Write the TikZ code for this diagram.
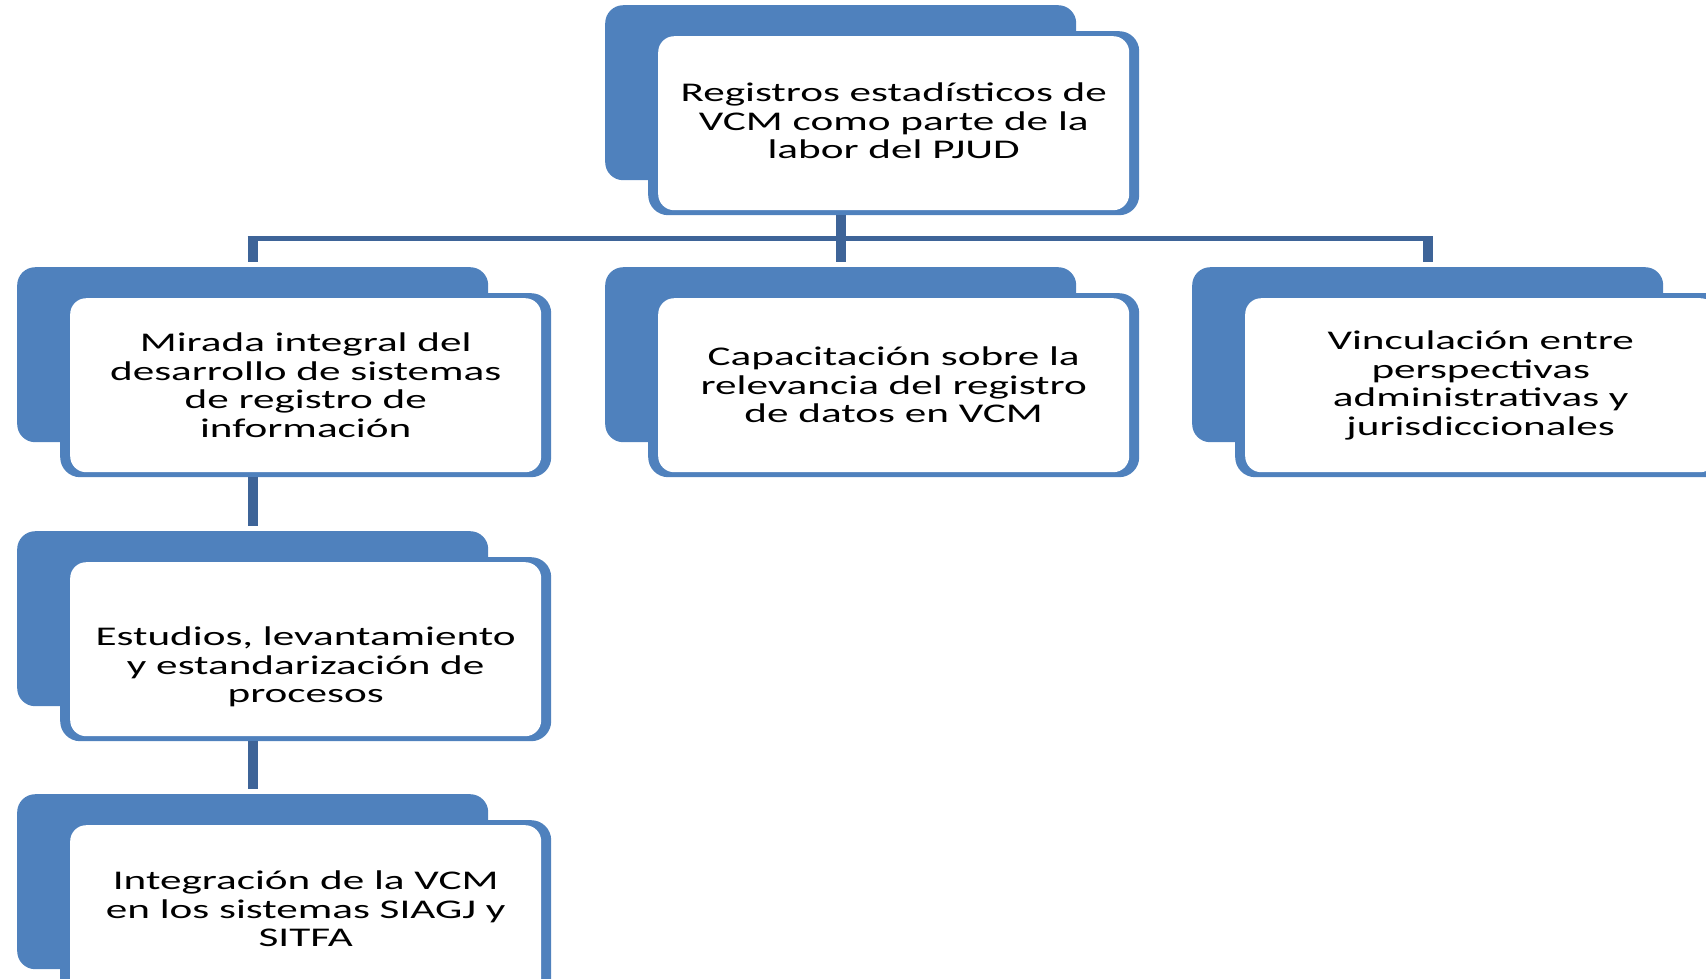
\documentclass[tikz,border=0pt]{standalone}
\usepackage{fontspec}
\setmainfont[FakeStretch=1.6]{Carlito}
\usepackage{tikz}
\usetikzlibrary{calc}

\definecolor{boxblue}{RGB}{79,129,189}
\definecolor{linkblue}{RGB}{62,100,152}

\tikzset{
  backbox/.style={fill=boxblue, draw=none, rounded corners=18pt, minimum width=471pt, minimum height=175pt, inner sep=0pt, anchor=north west},
  framebox/.style={fill=boxblue, draw=none, rounded corners=20pt, minimum width=491pt, minimum height=184pt, inner sep=0pt, anchor=north west},
  txtbox/.style={fill=white, draw=none, rounded corners=16pt, minimum width=471pt, minimum height=174pt, inner sep=0pt, align=center, font=\fontsize{27}{28.5}\selectfont},
  lbl/.style={align=center, font=\fontsize{27}{28.5}\selectfont},
  stub/.style={linkblue, line width=10pt},
  bus/.style={linkblue, line width=5pt},
}

\begin{document}
\begin{tikzpicture}[x=1pt, y=-1pt]

\useasboundingbox (0,0) rectangle (1706,978);
\clip (0,0) rectangle (1706,978);

% back boxes
\node[backbox] (regBack) at (605,5) {};
\node[backbox] (mirBack) at (17,267) {};
\node[backbox] (capBack) at (605,267) {};
\node[backbox] (vinBack) at (1192,267) {};
\node[backbox] (estBack) at (17,531) {};
\node[backbox] (intBack) at (17,794) {};

% frames
\node[framebox] (regFrame) at ([shift={(43,26)}]regBack.north west) {};
\node[framebox] (mirFrame) at ([shift={(43,26)}]mirBack.north west) {};
\node[framebox] (capFrame) at ([shift={(43,26)}]capBack.north west) {};
\node[framebox] (vinFrame) at ([shift={(43,26)}]vinBack.north west) {};
\node[framebox] (estFrame) at ([shift={(43,26)}]estBack.north west) {};
\node[framebox] (intFrame) at ([shift={(43,26)}]intBack.north west) {};

% texts
\node[txtbox] (reg) at (regFrame.center) {};
\node[lbl] (regText) at ([yshift=2pt]reg.center) {Registros estadísticos de\\VCM como parte de la\\labor del PJUD};
\node[txtbox] (mir) at (mirFrame.center) {Mirada integral del\\desarrollo de sistemas\\de registro de\\información};
\node[txtbox] (cap) at (capFrame.center) {Capacitación sobre la\\relevancia del registro\\de datos en VCM};
\node[txtbox] (vin) at (vinFrame.center) {Vinculación entre\\perspectivas\\administrativas y\\jurisdiccionales};
\node[txtbox] (est) at (estFrame.center) {};
\node[lbl] (estText) at ([yshift=-18pt]est.center) {Estudios, levantamiento\\y estandarización de\\procesos};
\node[txtbox] (int) at (intFrame.center) {};
\node[lbl] (intText) at ([yshift=3pt]int.center) {Integración de la VCM\\en los sistemas SIAGJ y\\SITFA};

% connectors
\draw[bus] ([xshift=-5pt, yshift=28.5pt]mirBack.north) -- ([xshift=5pt, yshift=28.5pt]vinBack.north);
\draw[stub] (regBack.north |- regFrame.south) -- ([yshift=5pt]capBack.north);
\draw[stub] ([yshift=31pt]mirBack.north) -- ([yshift=5pt]mirBack.north);
\draw[stub] ([yshift=31pt]vinBack.north) -- ([yshift=5pt]vinBack.north);
\draw[stub] (mirBack.north |- mirFrame.south) -- ([yshift=5pt]estBack.north);
\draw[stub] (estBack.north |- estFrame.south) -- ([yshift=5pt]intBack.north);

\end{tikzpicture}
\end{document}
